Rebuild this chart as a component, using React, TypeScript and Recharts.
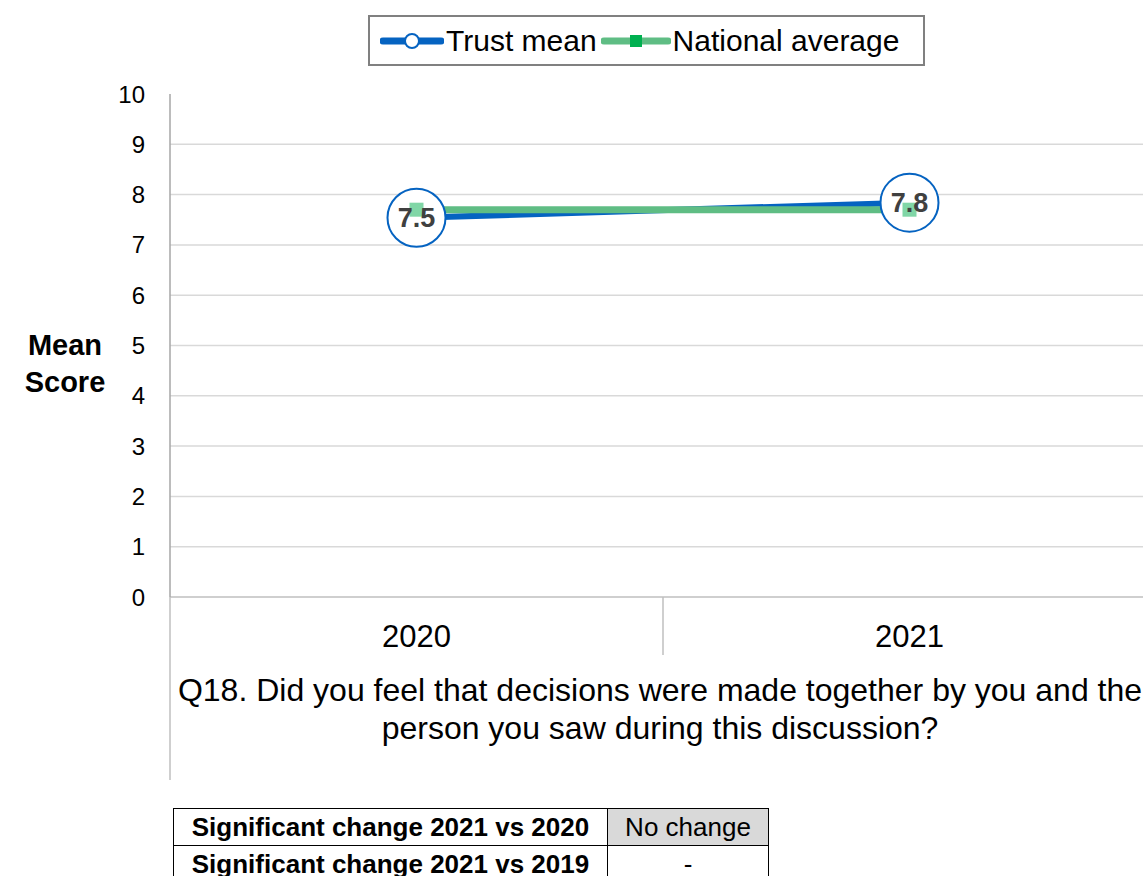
import { LineChart, Line, CartesianGrid, XAxis, YAxis, LabelList } from 'recharts';

const years = ['2020', '2021'];
const trustMean = [7.54, 7.84];
const nationalAverage = [7.7, 7.7];
const yTicks = [0, 1, 2, 3, 4, 5, 6, 7, 8, 9, 10];
const gridValues = [1, 2, 3, 4, 5, 6, 7, 8, 9];
const question = ['Q18. Did you feel that decisions were made together by you and the', 'person you saw during this discussion?'];
const tableRows = [
  ['Significant change 2021 vs 2020', 'No change'],
  ['Significant change 2021 vs 2019', '-'],
];

const data = years.map((y, i) => ({ year: y, trust: trustMean[i], national: nationalAverage[i] }));

const FONT = '"Liberation Sans", Arial, sans-serif';
const BLUE = '#0563C1';
const GREEN = '#5FBD84';
const GREEN_MARK = '#80D6A6';

const TrustDot = (props: any) => {
  const { cx, cy } = props;
  if (cx == null || cy == null) return null;
  return <circle cx={cx} cy={cy} r={29} fill="#fff" stroke={BLUE} strokeWidth={2} />;
};

const SquareDot = (props: any) => {
  const { cx, cy } = props;
  if (cx == null || cy == null) return null;
  return <rect x={cx - 7} y={cy - 7} width={14} height={14} fill={GREEN_MARK} />;
};

const XAxisDecor = (props: any) => {
  const { x, y, width } = props.viewBox;
  const mid = x + width / 2;
  return (
    <g>
      <line x1={x} y1={y} x2={x} y2={y + 183} stroke="#BFBFBF" strokeWidth={1.5} />
      <line x1={mid} y1={y} x2={mid} y2={y + 58} stroke="#BFBFBF" strokeWidth={1.5} />
      <text x={mid - 3} y={y + 104} textAnchor="middle" fontSize={32} fill="#000" fontFamily={FONT}>
        <tspan x={mid - 3}>{question[0]}</tspan>
        <tspan x={mid - 3} dy={38}>{question[1]}</tspan>
      </text>
    </g>
  );
};

const YLabel = () => (
  <text textAnchor="middle" fontSize={29} fontWeight="bold" fill="#000" fontFamily={FONT}>
    <tspan x={65} y={355}>Mean</tspan>
    <tspan x={65} y={392}>Score</tspan>
  </text>
);

const Legend = () => (
  <div
    style={{
      position: 'absolute',
      left: 368,
      top: 15,
      width: 557,
      height: 51,
      boxSizing: 'border-box',
      border: '2px solid #808080',
      display: 'flex',
      alignItems: 'center',
      fontFamily: FONT,
      fontSize: 30,
      background: '#fff',
    }}
  >
    <svg width={64} height={20} style={{ marginLeft: 10 }}>
      <line x1={3} y1={10} x2={61} y2={10} stroke={BLUE} strokeWidth={7} strokeLinecap="round" />
      <circle cx={32} cy={10} r={7} fill="#fff" stroke={BLUE} strokeWidth={2} />
    </svg>
    <span style={{ marginLeft: 2 }}>Trust mean</span>
    <svg width={70} height={20} style={{ marginLeft: 4 }}>
      <line x1={3} y1={10} x2={67} y2={10} stroke={GREEN} strokeWidth={7} strokeLinecap="round" />
      <rect x={29} y={4} width={12} height={12} fill="#00B050" />
    </svg>
    <span style={{ marginLeft: 2 }}>National average</span>
  </div>
);

const Table = () => (
  <table
    style={{
      position: 'absolute',
      left: 173,
      top: 808,
      borderCollapse: 'collapse',
      fontFamily: FONT,
      fontSize: 26,
    }}
  >
    <tbody>
      {tableRows.map((r, i) => (
        <tr key={i} style={{ height: 37 }}>
          <td style={{ width: 433, border: '1.5px solid #000', fontWeight: 'bold', textAlign: 'center', padding: 0 }}>{r[0]}</td>
          <td
            style={{
              width: 160,
              border: '1.5px solid #000',
              textAlign: 'center',
              padding: 0,
              background: i === 0 ? '#D9D9D9' : '#fff',
            }}
          >
            {r[1]}
          </td>
        </tr>
      ))}
    </tbody>
  </table>
);

const App = () => {
  return (
    <div style={{ position: 'absolute', left: 0, top: 0, width: 1143, height: 876, overflow: 'hidden', background: '#fff' }}>
      <LineChart width={1160} height={800} data={data} margin={{ top: 94, right: 4, left: 100, bottom: 20 }}>
        <CartesianGrid vertical={false} horizontalValues={gridValues} stroke="#D9D9D9" strokeWidth={1.5} />
        <XAxis
          dataKey="year"
          scale="band"
          height={183}
          axisLine={{ stroke: '#BFBFBF', strokeWidth: 1.5 }}
          tickLine={false}
          tickSize={20}
          tickMargin={8}
          tick={{ fontSize: 31, fill: '#000', fontFamily: FONT }}
          label={<XAxisDecor />}
        />
        <YAxis
          type="number"
          domain={[0, 10]}
          ticks={yTicks}
          width={70}
          interval={0}
          axisLine={{ stroke: '#A6A6A6', strokeWidth: 1.5 }}
          tickLine={false}
          tickSize={20}
          tickMargin={5}
          tick={{ fontSize: 24, fill: '#000', fontFamily: FONT }}
          label={<YLabel />}
        />
        <Line dataKey="trust" stroke={BLUE} strokeWidth={6} dot={<TrustDot />} activeDot={false} isAnimationActive={false} />
        <Line dataKey="national" stroke={GREEN} strokeWidth={7} dot={<SquareDot />} activeDot={false} isAnimationActive={false} />
        <Line dataKey="trust" stroke="none" dot={false} activeDot={false} legendType="none" isAnimationActive={false}>
          <LabelList
            dataKey="trust"
            position="center"
            formatter={(v: any) => Number(v).toFixed(1)}
            style={{ fontSize: 27, fontWeight: 'bold', fill: '#404040', fontFamily: FONT }}
          />
        </Line>
      </LineChart>
      <Legend />
      <Table />
    </div>
  );
};

export default App;
